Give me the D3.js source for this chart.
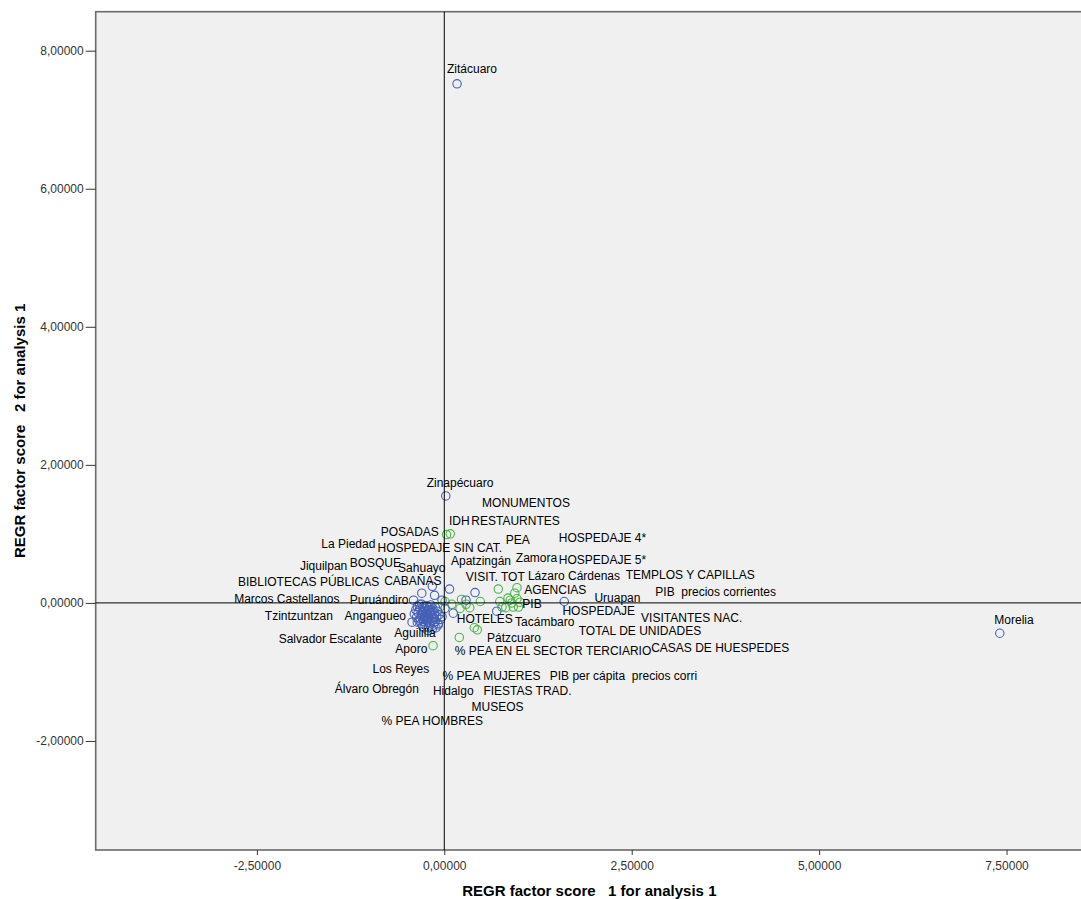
<!DOCTYPE html>
<html>
<head>
<meta charset="utf-8">
<script src="https://cdn.jsdelivr.net/npm/d3@7"></script>
<style>
  body { margin: 0; background: #fff; }
  svg { font-family: "Liberation Sans", Arial, sans-serif; }
  .lbl { font-size: 12px; fill: #000; white-space: pre; }
  .tick text { font-size: 12px; fill: #333; }
  .axis-title { font-size: 15px; font-weight: bold; fill: #000; white-space: pre; }
</style>
</head>
<body>
<div id="chart"></div>
<script>
// municipalities (factor score 1, factor score 2)
var cases = [
    [0.17, 7.52], [7.41, -0.44], [0.02, 1.55], [1.60, 0.02],
    [-0.16, 0.24], [0.07, 0.20], [-0.30, 0.14], [-0.13, 0.11], [0.41, 0.15],
    [0.29, 0.04], [-0.41, 0.04], [-0.03, 0.04], [0.01, -0.08], [0.12, -0.15],
    [0.70, -0.12], [-0.08, -0.32],
    [-0.36, -0.05], [-0.30, -0.02], [-0.24, -0.04], [-0.18, -0.03], [-0.12, -0.06],
    [-0.38, -0.10], [-0.33, -0.09], [-0.27, -0.08], [-0.21, -0.10], [-0.15, -0.09], [-0.09, -0.12],
    [-0.40, -0.16], [-0.35, -0.14], [-0.29, -0.13], [-0.25, -0.15], [-0.19, -0.14], [-0.13, -0.16], [-0.07, -0.17],
    [-0.37, -0.21], [-0.31, -0.19], [-0.26, -0.20], [-0.22, -0.18], [-0.16, -0.21], [-0.10, -0.20],
    [-0.34, -0.25], [-0.28, -0.24], [-0.23, -0.26], [-0.18, -0.25], [-0.12, -0.27], [-0.05, -0.24],
    [-0.31, -0.30], [-0.25, -0.31], [-0.20, -0.29], [-0.14, -0.32], [-0.08, -0.30],
    [-0.27, -0.36], [-0.21, -0.35], [-0.16, -0.38], [-0.43, -0.28],
    [-0.33, -0.02], [-0.20, -0.07], [-0.30, -0.17], [-0.18, -0.11], [-0.24, -0.22],
    [-0.13, -0.23], [-0.36, -0.28], [-0.22, -0.40], [-0.11, -0.36], [-0.03, -0.20],
    [-0.27, -0.05], [-0.15, -0.13],
    [-0.28, -0.11], [-0.23, -0.12], [-0.17, -0.17], [-0.21, -0.22], [-0.27, -0.27],
    [-0.19, -0.32], [-0.24, -0.18], [-0.32, -0.23], [-0.14, -0.28], [-0.29, -0.34]
];

// variables (loadings plotted on same plane)
var variables = [
    [0.03, 0.99], [0.08, 1.00], [0.72, 0.20], [0.97, 0.22], [0.94, 0.14],
    [0.97, 0.06], [0.23, 0.05], [0.48, 0.02], [0.10, -0.02], [-0.06, -0.06],
    [0.21, -0.08], [0.34, -0.07], [0.74, 0.02], [0.88, 0.04], [0.92, -0.06],
    [0.99, -0.06], [0.82, -0.07], [0.77, -0.06], [1.01, 0.01], [0.90, 0.00],
    [0.40, -0.36], [0.44, -0.39], [0.20, -0.50], [-0.15, -0.62], [0.85, 0.07],
    [0.01, 0.02], [0.29, -0.02]
];

// point labels, placed where the chart put them
var labelText = [
    'Zitácuaro', 'Zinapécuaro', 'La Piedad', 'Jiquilpan', 'Sahuayo', 'Apatzingán',
    'Zamora', 'Lázaro Cárdenas', 'Marcos Castellanos', 'Puruándiro', 'Uruapan',
    'Tzintzuntzan', 'Angangueo', 'Tacámbaro', 'Salvador Escalante', 'Aguililla',
    'Aporo', 'Pátzcuaro', 'Los Reyes', 'Álvaro Obregón', 'Hidalgo', 'Morelia',
    'MONUMENTOS', 'IDH', 'RESTAURNTES', 'POSADAS', 'PEA', 'HOSPEDAJE 4*',
    'HOSPEDAJE SIN CAT.', 'BOSQUE', 'HOSPEDAJE 5*', 'TEMPLOS Y CAPILLAS',
    'BIBLIOTECAS PÚBLICAS', 'CABAÑAS', 'VISIT. TOT', 'AGENCIAS',
    'PIB  precios corrientes', 'PIB', 'HOSPEDAJE', 'VISITANTES NAC.', 'HOTELES',
    'TOTAL DE UNIDADES', 'CASAS DE HUESPEDES', '% PEA EN EL SECTOR TERCIARIO',
    '% PEA MUJERES', 'PIB per cápita  precios corri', 'FIESTAS TRAD.', 'MUSEOS',
    '% PEA HOMBRES'
];
var labelX = [
    0.37, 0.21, -1.28, -1.61, -0.30, 0.49, 1.23, 1.73, -2.10, -0.87, 2.31,
    -1.94, -0.92, 1.34, -1.52, -0.39, -0.44, 0.93, -0.58, -0.90, 0.12, 7.60,
    1.09, 0.20, 0.95, -0.46, 0.98, 2.11, -0.06, -0.92, 2.11, 3.28,
    -1.81, -0.42, 0.68, 1.48, 3.62, 1.17, 2.06, 3.30, 0.54,
    2.61, 3.68, 1.45, 0.63, 2.39, 1.11, 0.71, -0.16
];
var labelY = [
    7.67, 1.68, 0.80, 0.48, 0.45, 0.55, 0.59, 0.33, 0.00, -0.02, 0.02,
    -0.25, -0.25, -0.34, -0.58, -0.49, -0.73, -0.57, -1.01, -1.31, -1.33, -0.30,
    1.39, 1.13, 1.13, 0.97, 0.86, 0.88, 0.74, 0.52, 0.57, 0.35,
    0.24, 0.26, 0.32, 0.13, 0.10, -0.08, -0.18, -0.27, -0.29,
    -0.47, -0.71, -0.76, -1.11, -1.12, -1.33, -1.57, -1.77
];

var xTicks = [-2.5, 0, 2.5, 5, 7.5];
var yTicks = [-2, 0, 2, 4, 6, 8];

var width = 1081, height = 899;
var plotLeft = 95.7, plotRight = 1083, plotTop = 11.7, plotBottom = 850;

var svg = d3.select('#chart').append('svg')
    .attr('width', width)
    .attr('height', height);

var x = d3.scaleLinear().domain([-4.65, 8.52]).range([plotLeft, plotRight]);
var y = d3.scaleLinear().domain([-3.58, 8.565]).range([plotBottom, plotTop]);

// SPSS style: comma decimal, plain hyphen for negatives
var fmt = function (d) { return d.toFixed(5).replace('.', ','); };

// PLOT BACKGROUND
// ----------------------------------------------------------------
svg.append('rect')
    .attr('x', plotLeft)
    .attr('y', plotTop)
    .attr('width', plotRight - plotLeft)
    .attr('height', plotBottom - plotTop)
    .attr('fill', '#f0f0f0')
    .attr('stroke', '#6a6a6a')
    .attr('stroke-width', 1.6);

// AXES
// ----------------------------------------------------------------
var gx = svg.append('g')
    .attr('transform', 'translate(0,' + plotBottom + ')')
    .call(d3.axisBottom(x).tickValues(xTicks).tickSize(5).tickPadding(6).tickFormat(fmt));
gx.select('.domain').remove();
gx.selectAll('.tick line').attr('stroke', '#333');

var gy = svg.append('g')
    .attr('transform', 'translate(' + plotLeft + ',0)')
    .call(d3.axisLeft(y).tickValues(yTicks).tickSize(10).tickPadding(2).tickFormat(fmt));
gy.select('.domain').remove();
gy.selectAll('.tick line').attr('stroke', '#333');

svg.append('text')
    .attr('class', 'axis-title')
    .attr('x', (plotLeft + plotRight) / 2)
    .attr('y', 896)
    .attr('text-anchor', 'middle')
    .text('REGR factor score   1 for analysis 1');

svg.append('text')
    .attr('class', 'axis-title')
    .attr('transform', 'translate(25,' + ((plotTop + plotBottom) / 2) + ') rotate(-90)')
    .attr('text-anchor', 'middle')
    .text('REGR factor score   2 for analysis 1');

// POINTS
// ----------------------------------------------------------------
var gPlot = svg.append('g');

gPlot.selectAll('.var-pt')
    .data(variables)
    .enter().append('circle')
    .attr('class', 'var-pt')
    .attr('cx', function (d) { return x(d[0]); })
    .attr('cy', function (d) { return y(d[1]); })
    .attr('r', 4.2)
    .attr('fill', 'none')
    .attr('stroke', '#48b548')
    .attr('stroke-width', 1.1);

gPlot.selectAll('.case-pt')
    .data(cases)
    .enter().append('circle')
    .attr('class', 'case-pt')
    .attr('cx', function (d) { return x(d[0]); })
    .attr('cy', function (d) { return y(d[1]); })
    .attr('r', 4.2)
    .attr('fill', 'none')
    .attr('stroke', '#4560b5')
    .attr('stroke-width', 1.1);

// LABELS
// ----------------------------------------------------------------
gPlot.selectAll('.lbl')
    .data(labelText)
    .enter().append('text')
    .attr('class', 'lbl')
    .attr('x', function (d, i) { return x(labelX[i]); })
    .attr('y', function (d, i) { return y(labelY[i]); })
    .attr('text-anchor', 'middle')
    .text(function (d) { return d; });

// REFERENCE LINES
// ----------------------------------------------------------------
svg.append('line')
    .attr('x1', x(0)).attr('x2', x(0))
    .attr('y1', plotTop).attr('y2', plotBottom)
    .attr('stroke', '#000').attr('stroke-width', 1);
svg.append('line')
    .attr('x1', plotLeft).attr('x2', plotRight)
    .attr('y1', y(0)).attr('y2', y(0))
    .attr('stroke', '#000').attr('stroke-width', 1);
</script>
</body>
</html>
